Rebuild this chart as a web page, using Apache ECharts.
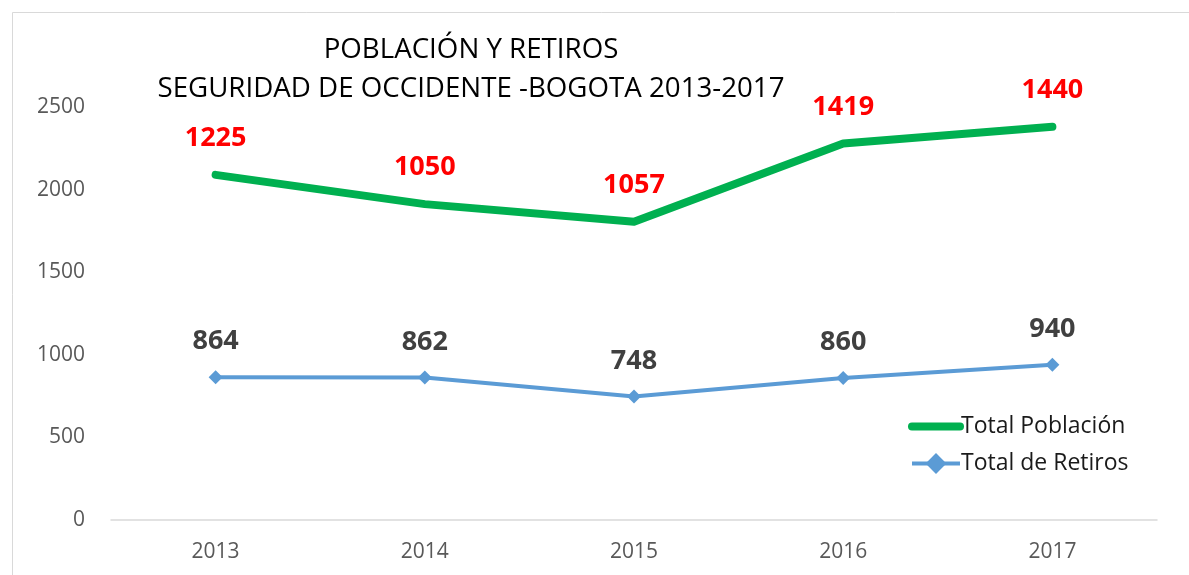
<!DOCTYPE html>
<html><head><meta charset="utf-8">
<script src="https://cdn.jsdelivr.net/npm/echarts@6/dist/echarts.min.js"></script>
<style>html,body{margin:0;padding:0;background:#fff}#c{width:1189px;height:575px}</style>
</head><body><div id="c"></div>
<script>
const categories = ['2013','2014','2015','2016','2017'];
const poblacion = [1225, 1050, 1057, 1419, 1440];
const retiros = [864, 862, 748, 860, 940];
const yTicks = [0, 500, 1000, 1500, 2000, 2500];
const titleLines = ['POBLACIÓN Y RETIROS', 'SEGURIDAD DE OCCIDENTE -BOGOTA 2013-2017'];

const F = 'Open Sans';
const chart = echarts.init(document.getElementById('c'), null, {renderer:'canvas'});
chart.setOption({
  animation:false,
  backgroundColor:'#fff',
  textStyle:{fontFamily:F},
  title:{
    text: titleLines.join('\n'),
    left: 466, top: 26, textAlign:'center',
    textStyle:{fontFamily:F, fontSize:27.7, fontWeight:'normal', color:'#000', lineHeight:39}
  },
  graphic:[{type:'rect', shape:{x:12.5,y:12.5,width:1300,height:700}, style:{fill:null, stroke:'#d9d9d9', lineWidth:1}, silent:true, z:-1}],
  legend:{
    orient:'vertical', left:903, top:410, itemGap:14, itemWidth:48, itemHeight:26,
    data:[
      {name:'Total Población', itemStyle:{opacity:0}, lineStyle:{width:8, cap:'round', color:'#00B050'}},
      {name:'Total de Retiros', lineStyle:{width:4, color:'#5B9BD5'}}
    ],
    textStyle:{fontFamily:F, fontSize:23, color:'#1a1a1a', padding:[0,0,0,-4]}
  },
  grid:{left:111, right:1189-1157, top:107, bottom:575-520, containLabel:false},
  xAxis:{
    type:'category', data:categories, boundaryGap:true,
    axisLine:{lineStyle:{color:'#d9d9d9', width:1.5}}, axisTick:{show:false},
    axisLabel:{fontFamily:F, fontSize:21, color:'#595959', margin:22}
  },
  yAxis:{
    type:'value', min:yTicks[0], max:yTicks[yTicks.length-1], interval:500,
    axisLine:{show:false}, axisTick:{show:false}, splitLine:{show:false},
    axisLabel:{fontFamily:F, fontSize:21, color:'#595959', margin:26, formatter:function(v){return String(v);}}
  },
  series:[
    {
      name:'Total de Retiros', type:'line', stack:'total', data:retiros,
      symbol:'diamond', symbolSize:14,
      lineStyle:{color:'#5B9BD5', width:4}, itemStyle:{color:'#5B9BD5'},
      label:{show:true, position:'top', distance:15, fontFamily:F, fontSize:27, fontWeight:'bold', color:'#404040'}
    },
    {
      name:'Total Población', type:'line', stack:'total', data:poblacion,
      symbol:'circle', symbolSize:2, showSymbol:true,
      lineStyle:{color:'#00B050', width:8, cap:'round', join:'round'}, itemStyle:{color:'#00B050'},
      label:{show:true, position:'top', distance:22, fontFamily:F, fontSize:27, fontWeight:'bold', color:'#FF0000'}
    }
  ]
});
</script></body></html>
